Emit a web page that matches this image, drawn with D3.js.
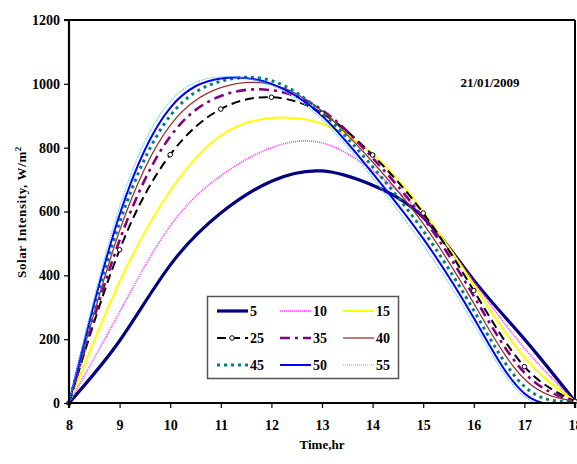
<!DOCTYPE html>
<html><head><meta charset="utf-8">
<script src="https://cdn.jsdelivr.net/npm/d3@7"></script>
<style>
body{margin:0;background:#fff;}
svg text{font-family:"Liberation Serif","Times New Roman",serif;font-weight:bold;}
</style></head>
<body><svg id="c" width="577" height="464"></svg>
<script>
const hours = [8,9,10,11,12,13,14,15,16,17,18];
const seriesNames = ["5","10","15","25","35","40","45","50","55"];
const s5  = [0,195,432,595,695,727,682,582,385,200,5];
const s10 = [0,285,555,712,800,815,728,585,380,172,5];
const s15 = [0,380,665,838,893,875,780,600,370,142,5];
const s25 = [0,480,778,921,958,908,777,595,352,114,5];
const s35 = [0,510,835,962,980,918,768,580,335,95,5];
const s40 = [0,540,870,988,998,915,755,562,312,75,5];
const s45 = [0,565,900,1008,1010,910,740,540,290,52,5];
const s50 = [0,590,925,1017,1000,900,720,515,266,30,5];
const s55 = [0,615,945,1022,995,888,705,495,248,20,5];
const yTicks = [0,200,400,600,800,1000,1200];
const xTicks = [8,9,10,11,12,13,14,15,16,17,18];
const dateLabel = "21/01/2009";

const values = [s5,s10,s15,s25,s35,s40,s45,s50,s55];
const styles = [
 {c:"#000080",w:3.2,d:null},
 {c:"#ff33ff",w:1.6,d:"1,1"},
 {c:"#ffff00",w:2,d:null},
 {c:"#000000",w:2,d:"9,5",m:true},
 {c:"#800080",w:2.6,d:"10,5,3,5"},
 {c:"#993333",w:1.3,d:null},
 {c:"#008080",w:3,d:"3,4"},
 {c:"#0000ff",w:2,d:null},
 {c:"#44ccff",w:1.2,d:"1,1"}
];

const svg = d3.select("#c");
const L=69,R=575,T=20,B=403;
const x = d3.scaleLinear().domain([8,18]).range([L,R]);
const y = d3.scaleLinear().domain([0,1200]).range([B,T]);

svg.append("defs").append("clipPath").attr("id","pa").append("rect")
  .attr("x",L-3).attr("y",T).attr("width",R-L+6).attr("height",B-T+1);

svg.append("line").attr("x1",L-3).attr("x2",R).attr("y1",T).attr("y2",T).attr("stroke","#000").attr("stroke-width",2);
svg.append("line").attr("x1",R).attr("x2",R).attr("y1",T).attr("y2",B).attr("stroke","#000").attr("stroke-width",2);

const line = d3.line().x((d,i)=>x(hours[i])).y(d=>y(d)).curve(d3.curveNatural);
const g = svg.append("g").attr("clip-path","url(#pa)");
values.forEach((v,k)=>{
  const st=styles[k];
  g.append("path").datum(v).attr("d",line).attr("fill","none")
   .attr("stroke",st.c).attr("stroke-width",st.w)
   .attr("stroke-dasharray",st.d);
});
values.forEach((v,k)=>{
  const st=styles[k];
  if(st.m){
    svg.append("g").selectAll("circle").data(v).enter().append("circle")
     .attr("cx",(d,i)=>x(hours[i])).attr("cy",d=>y(d)).attr("r",2.3)
     .attr("fill","#fff").attr("stroke","#000").attr("stroke-width",1);
  }
});

const ax = svg.append("g").attr("transform",`translate(0,${B})`)
  .call(d3.axisBottom(x).tickValues(xTicks).tickSize(5).tickPadding(12).tickFormat(d3.format("d")));
const ay = svg.append("g").attr("transform",`translate(${L},0)`)
  .call(d3.axisLeft(y).tickValues(yTicks).tickSize(5).tickPadding(4).tickFormat(d3.format("d")));
[ax,ay].forEach(a=>{
  a.select(".domain").attr("stroke","#000").attr("stroke-width",2.2);
  a.selectAll(".tick line").attr("stroke","#000").attr("stroke-width",1.2);
  a.selectAll("text").attr("font-size",14).attr("fill","#000")
   .attr("font-family","Liberation Serif").attr("font-weight","bold");
});
ay.select(".domain").attr("d",`M-5,${T}H0V${B}`);
ax.select(".domain").attr("d",`M${L},5V0H${R}V5`);

svg.append("text").attr("x",322).attr("y",449).attr("text-anchor","middle")
  .attr("font-size",13).text("Time,hr");
const yl = svg.append("text").attr("transform","translate(26,212) rotate(-90)")
  .attr("text-anchor","middle").attr("font-size",13).attr("letter-spacing","0.6");
yl.append("tspan").text("Solar Intensity, W/m");
yl.append("tspan").attr("dy",-5).attr("font-size",9).text("2");

svg.append("text").attr("x",490).attr("y",87).attr("text-anchor","middle")
  .attr("font-size",13).text(dateLabel);

const lg = svg.append("g");
lg.append("rect").attr("x",207.5).attr("y",296.5).attr("width",191).attr("height",82)
  .attr("fill","#fff").attr("stroke","#555").attr("stroke-width",1.5);
const colX=[217,280,343], rowY=[311,338,365];
seriesNames.forEach((n,k)=>{
  const cx=colX[k%3], cy=rowY[Math.floor(k/3)], st=styles[k];
  lg.append("line").attr("x1",cx).attr("x2",cx+31).attr("y1",cy).attr("y2",cy)
    .attr("stroke",st.c).attr("stroke-width",st.w).attr("stroke-dasharray",st.d);
  if(st.m) lg.append("circle").attr("cx",cx+15).attr("cy",cy).attr("r",2.3)
    .attr("fill","#fff").attr("stroke","#000");
  lg.append("text").attr("x",cx+33).attr("y",cy+5).attr("font-size",14).text(n);
});
</script></body></html>
